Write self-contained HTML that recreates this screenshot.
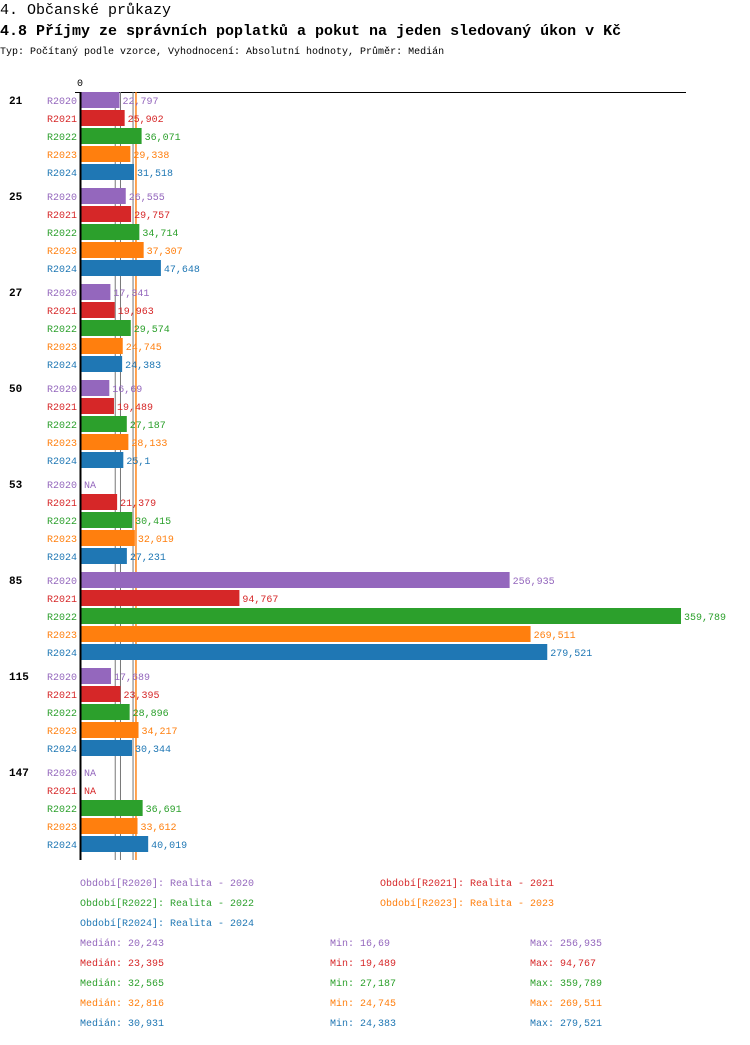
<!DOCTYPE html>
<html><head><meta charset="utf-8"><style>
body{margin:0;background:#fff;}
svg text{font-family:"Liberation Mono",monospace;}
</style></head><body>
<svg id="s" width="750" height="1040" xmlns="http://www.w3.org/2000/svg">
<text x="0" y="14" font-size="15" fill="#000">4. Občanské průkazy</text>
<text x="0" y="35" font-size="15" font-weight="bold" fill="#000">4.8 Příjmy ze správních poplatků a pokut na jeden sledovaný úkon v Kč</text>
<text x="0" y="54" font-size="10" fill="#000">Typ: Počítaný podle vzorce, Vyhodnocení: Absolutní hodnoty, Průměr: Medián</text>
<text x="80" y="86" font-size="10" text-anchor="middle" fill="#000">0</text>
<line x1="75" y1="92.5" x2="686" y2="92.5" stroke="#000" stroke-width="1"/>
<g id="g"></g>
</svg>
<script>
var cols=["#9467bd","#d62728","#2ca02c","#ff7f0e","#1f77b4"];
var names=["R2020","R2021","R2022","R2023","R2024"];
var groups=[["21",[22797,25902,36071,29338,31518]],["25",[26555,29757,34714,37307,47648]],["27",[17341,19963,29574,24745,24383]],["50",[16690,19489,27187,28133,25100]],["53",[null,21379,30415,32019,27231]],["85",[256935,94767,359789,269511,279521]],["115",[17689,23395,28896,34217,30344]],["147",[null,null,36691,33612,40019]]];
var fmt=function(v){if(v===16690)return"16,69";if(v===25100)return"25,1";return v.toLocaleString("en-US");};
var k=(681-81.5)/359789,h="";
var med=[20243,23395,32565,32816,30931];
var lc=["#777","#777","#ff7f0e","#ff7f0e","#777"];
med.forEach(function(m,j){var x=81.5+m*k;h+='<line x1="'+x+'" y1="92" x2="'+x+'" y2="860" stroke="'+lc[j]+'" stroke-width="1"/>';});
groups.forEach(function(g,i){var y0=92+96*i;
h+='<text x="9" y="'+(y0+12)+'" font-size="11" font-weight="bold" fill="#000">'+g[0]+'</text>';
g[1].forEach(function(v,j){var y=y0+18*j;
h+='<text x="77" y="'+(y+12)+'" font-size="10" text-anchor="end" fill="'+cols[j]+'">'+names[j]+'</text>';
if(v===null){h+='<text x="84" y="'+(y+12)+'" font-size="10" fill="'+cols[j]+'">NA</text>';}
else{var w=v*k;h+='<rect x="81.5" y="'+y+'" width="'+w+'" height="16" fill="'+cols[j]+'"/>';
h+='<text x="'+(81.5+w+3)+'" y="'+(y+12)+'" font-size="10" fill="'+cols[j]+'">'+fmt(v)+'</text>';}
});});
h+='<line x1="80.5" y1="92" x2="80.5" y2="860" stroke="#000" stroke-width="2"/>';
var leg=[[80,886,0,"Období[R2020]: Realita - 2020"],[380,886,1,"Období[R2021]: Realita - 2021"],[80,906,2,"Období[R2022]: Realita - 2022"],[380,906,3,"Období[R2023]: Realita - 2023"],[80,926,4,"Období[R2024]: Realita - 2024"]];
leg.forEach(function(l){h+='<text x="'+l[0]+'" y="'+l[1]+'" font-size="10" fill="'+cols[l[2]]+'">'+l[3]+'</text>';});
var st=[["20,243","16,69","256,935"],["23,395","19,489","94,767"],["32,565","27,187","359,789"],["32,816","24,745","269,511"],["30,931","24,383","279,521"]];
st.forEach(function(s,j){var y=946+20*j;
h+='<text x="80" y="'+y+'" font-size="10" fill="'+cols[j]+'">Medián: '+s[0]+'</text>';
h+='<text x="330" y="'+y+'" font-size="10" fill="'+cols[j]+'">Min: '+s[1]+'</text>';
h+='<text x="530" y="'+y+'" font-size="10" fill="'+cols[j]+'">Max: '+s[2]+'</text>';});
document.getElementById("g").innerHTML=h;
</script>
</body></html>
